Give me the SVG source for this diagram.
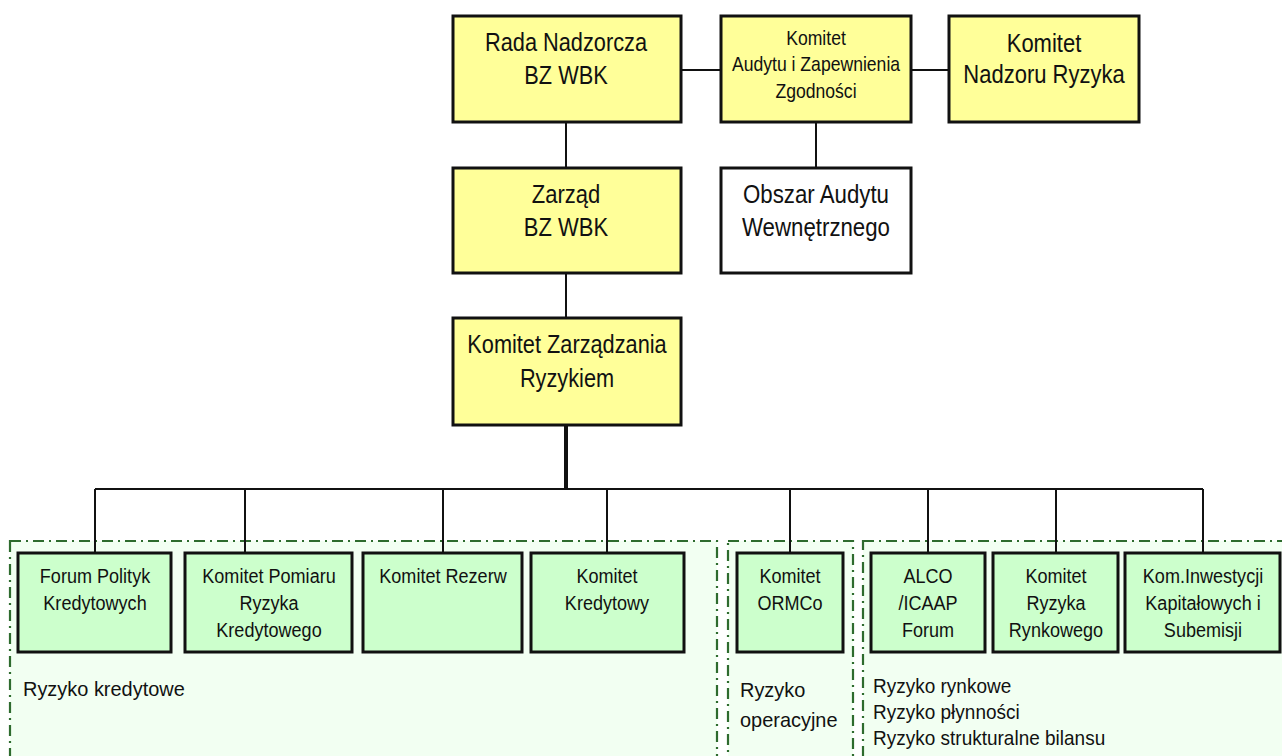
<svg xmlns="http://www.w3.org/2000/svg" width="1282" height="756" viewBox="0 0 1282 756">
<style>
text{font-family:"Liberation Sans",Arial,sans-serif;fill:#111;}
.t{text-anchor:middle;}
.big{font-size:25px;}
.mid{font-size:20px;}
.sm{font-size:21px;}
.lb{font-size:21px;}
.lr{font-size:20px;}
.y{fill:#FFFF99;stroke:#111;stroke-width:3;}
.w{fill:#FFFFFF;stroke:#111;stroke-width:3;}
.g{fill:#CCFFCC;stroke:#111;stroke-width:3;}
.grp{fill:#F2FFF2;stroke:#2E6B2E;stroke-width:2.2;stroke-dasharray:11 5 2 5;}
.c{fill:none;stroke:#111;stroke-width:2;}
.ct{fill:none;stroke:#111;stroke-width:4;}
</style>
<rect width="1282" height="756" fill="#fff"/>
<g id="groups">
<rect class="grp" x="10" y="541" width="707" height="230"/>
<rect class="grp" x="728" y="541" width="125" height="230"/>
<rect class="grp" x="863" y="541" width="430" height="230"/>
</g>
<g id="connectors">
<line class="c" x1="681" y1="70" x2="721" y2="70"/>
<line class="c" x1="911" y1="70" x2="949" y2="70"/>
<line class="c" x1="566" y1="122" x2="566" y2="168"/>
<line class="c" x1="816" y1="122" x2="816" y2="168"/>
<line class="c" x1="566" y1="273" x2="566" y2="318"/>
<line class="ct" x1="566" y1="425" x2="566" y2="489"/>
<line class="c" x1="95" y1="489" x2="1203" y2="489"/>
<line class="c" x1="95" y1="489" x2="95" y2="553"/>
<line class="c" x1="245" y1="489" x2="245" y2="553"/>
<line class="c" x1="443" y1="489" x2="443" y2="553"/>
<line class="c" x1="607" y1="489" x2="607" y2="553"/>
<line class="c" x1="790" y1="489" x2="790" y2="553"/>
<line class="c" x1="928" y1="489" x2="928" y2="553"/>
<line class="c" x1="1056" y1="489" x2="1056" y2="553"/>
<line class="c" x1="1203" y1="489" x2="1203" y2="553"/>
</g>
<g id="rada">
<rect class="y" x="453" y="16" width="228" height="106"/>
<text class="t big" transform="matrix(0.87 0 0 1 566 0)" y="51">Rada Nadzorcza</text>
<text class="t big" transform="matrix(0.87 0 0 1 566 0)" y="84">BZ WBK</text>
</g>
<g id="komitet-audytu">
<rect class="y" x="721" y="16" width="190" height="106"/>
<text class="t mid" transform="matrix(0.88 0 0 1 816 0)" y="45">Komitet</text>
<text class="t mid" transform="matrix(0.88 0 0 1 816 0)" y="71">Audytu i Zapewnienia</text>
<text class="t mid" transform="matrix(0.88 0 0 1 816 0)" y="98">Zgodności</text>
</g>
<g id="komitet-nadzoru">
<rect class="y" x="949" y="16" width="190" height="106"/>
<text class="t big" transform="matrix(0.88 0 0 1 1044 0)" y="52">Komitet</text>
<text class="t big" transform="matrix(0.88 0 0 1 1044 0)" y="83">Nadzoru Ryzyka</text>
</g>
<g id="zarzad">
<rect class="y" x="453" y="168" width="228" height="105"/>
<text class="t big" transform="matrix(0.88 0 0 1 566 0)" y="203">Zarząd</text>
<text class="t big" transform="matrix(0.88 0 0 1 566 0)" y="236">BZ WBK</text>
</g>
<g id="obszar-audytu">
<rect class="w" x="721" y="168" width="190" height="105"/>
<text class="t big" transform="matrix(0.89 0 0 1 816 0)" y="203">Obszar Audytu</text>
<text class="t big" transform="matrix(0.89 0 0 1 816 0)" y="236">Wewnętrznego</text>
</g>
<g id="komitet-zarzadzania">
<rect class="y" x="453" y="318" width="228" height="107"/>
<text class="t big" transform="matrix(0.87 0 0 1 567 0)" y="353">Komitet Zarządzania</text>
<text class="t big" transform="matrix(0.87 0 0 1 567 0)" y="387">Ryzykiem</text>
</g>
<g id="forum-polityk">
<rect class="g" x="18" y="553" width="153" height="99"/>
<text class="t sm" transform="matrix(0.86 0 0 1 95 0)" y="583">Forum Polityk</text>
<text class="t sm" transform="matrix(0.86 0 0 1 95 0)" y="610">Kredytowych</text>
</g>
<g id="komitet-pomiaru">
<rect class="g" x="185" y="553" width="167" height="99"/>
<text class="t sm" transform="matrix(0.86 0 0 1 269 0)" y="583">Komitet Pomiaru</text>
<text class="t sm" transform="matrix(0.86 0 0 1 269 0)" y="610">Ryzyka</text>
<text class="t sm" transform="matrix(0.86 0 0 1 269 0)" y="637">Kredytowego</text>
</g>
<g id="komitet-rezerw">
<rect class="g" x="363" y="553" width="159" height="99"/>
<text class="t sm" transform="matrix(0.86 0 0 1 443 0)" y="583">Komitet Rezerw</text>
</g>
<g id="komitet-kredytowy">
<rect class="g" x="531" y="553" width="153" height="99"/>
<text class="t sm" transform="matrix(0.86 0 0 1 607 0)" y="583">Komitet</text>
<text class="t sm" transform="matrix(0.86 0 0 1 607 0)" y="610">Kredytowy</text>
</g>
<g id="komitet-ormco">
<rect class="g" x="737" y="553" width="106" height="99"/>
<text class="t sm" transform="matrix(0.86 0 0 1 790 0)" y="583">Komitet</text>
<text class="t sm" transform="matrix(0.86 0 0 1 790 0)" y="610">ORMCo</text>
</g>
<g id="alco">
<rect class="g" x="871" y="553" width="114" height="99"/>
<text class="t sm" transform="matrix(0.86 0 0 1 928 0)" y="583">ALCO</text>
<text class="t sm" transform="matrix(0.86 0 0 1 928 0)" y="610">/ICAAP</text>
<text class="t sm" transform="matrix(0.86 0 0 1 928 0)" y="637">Forum</text>
</g>
<g id="komitet-ryzyka-rynkowego">
<rect class="g" x="993" y="553" width="125" height="99"/>
<text class="t sm" transform="matrix(0.86 0 0 1 1056 0)" y="583">Komitet</text>
<text class="t sm" transform="matrix(0.86 0 0 1 1056 0)" y="610">Ryzyka</text>
<text class="t sm" transform="matrix(0.86 0 0 1 1056 0)" y="637">Rynkowego</text>
</g>
<g id="kom-inwestycji">
<rect class="g" x="1125" y="553" width="155" height="99"/>
<text class="t sm" transform="matrix(0.86 0 0 1 1203 0)" y="583">Kom.Inwestycji</text>
<text class="t sm" transform="matrix(0.86 0 0 1 1203 0)" y="610">Kapitałowych i</text>
<text class="t sm" transform="matrix(0.86 0 0 1 1203 0)" y="637">Subemisji</text>
</g>
<g id="labels">
<text class="lb" transform="matrix(0.95 0 0 1 23 0)" y="696">Ryzyko kredytowe</text>
<text class="lb" transform="matrix(0.95 0 0 1 740 0)" y="697">Ryzyko</text>
<text class="lb" transform="matrix(0.95 0 0 1 740 0)" y="727">operacyjne</text>
<text class="lr" transform="matrix(0.95 0 0 1 873 0)" y="693">Ryzyko rynkowe</text>
<text class="lr" transform="matrix(0.95 0 0 1 873 0)" y="719">Ryzyko płynności</text>
<text class="lr" transform="matrix(0.95 0 0 1 873 0)" y="745">Ryzyko strukturalne bilansu</text>
</g>
</svg>
